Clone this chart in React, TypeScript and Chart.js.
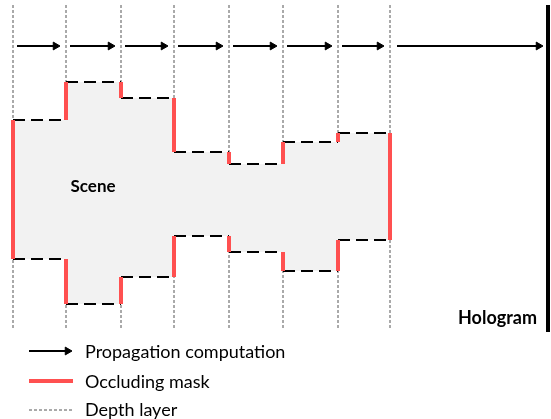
import React, { useEffect, useRef } from "react";
import { Chart, registerables } from "chart.js";

Chart.register(...registerables);

// Depth positions of the layers (x) and the scene profile (y, measured downward)
const layerDepths = [13, 66, 121, 174, 229, 283, 338, 390];
const upperEdge = [120, 82, 98, 152, 164, 142, 133];
const lowerEdge = [259, 304, 277, 236, 252, 271, 240];
const hologramDepth = 548;
const layerRange = [5, 330];
const hologramRange = [5, 332];
const arrowLevel = 46;
const lastArrow = [397, 543];
const legendLabels = ["Propagation computation", "Occluding mask", "Depth layer"];
const legendRows = [351, 381, 410];
const legendSample = [29, 73];
const legendTextX = 85;
const sceneLabel = "Scene";
const hologramLabel = "Hologram";

const RED = "#ff5050";
const FILL = "#f2f2f2";
const FONT = "Lato, 'Open Sans', sans-serif";

function seg(x1: number, y1: number, x2: number, y2: number, opts: any) {
  return {
    data: [
      { x: x1, y: y1 },
      { x: x2, y: y2 },
    ],
    pointRadius: 0,
    fill: false,
    tension: 0,
    ...opts,
  };
}

function arrow(x1: number, x2: number, y: number) {
  const r = 4.5;
  return {
    data: [
      { x: x1, y },
      { x: x2 - r, y },
    ],
    borderColor: "#000",
    borderWidth: 2,
    pointRadius: [0, r],
    pointStyle: "triangle",
    pointRotation: 90,
    pointBackgroundColor: "#000",
    pointBorderColor: "#000",
    pointBorderWidth: 1,
    fill: false,
    order: 0,
  };
}

export default function App() {
  const ref = useRef<HTMLCanvasElement>(null);

  useEffect(() => {
    const n = layerDepths.length;
    const datasets: any[] = [];

    // depth layers (drawn first, under the scene fill)
    layerDepths.forEach((d) => {
      datasets.push(
        seg(d, layerRange[0], d, layerRange[1], {
          borderColor: "#555",
          borderWidth: 1,
          borderDash: [3, 2],
          order: 10,
        })
      );
    });

    // scene fill between stepped upper and lower edges
    const up = layerDepths.map((d, i) => ({ x: d, y: upperEdge[Math.min(i, n - 2)] }));
    const lo = layerDepths.map((d, i) => ({ x: d, y: lowerEdge[Math.min(i, n - 2)] }));
    datasets.push({
      data: up,
      stepped: "before",
      borderWidth: 0,
      borderColor: "rgba(0,0,0,0)",
      backgroundColor: FILL,
      pointRadius: 0,
      fill: "+1",
      order: 9,
    });
    datasets.push({
      data: lo,
      stepped: "before",
      borderWidth: 0,
      borderColor: "rgba(0,0,0,0)",
      pointRadius: 0,
      fill: false,
      order: 9,
    });

    // dashed black horizontal edges
    for (let i = 0; i < n - 1; i++) {
      [upperEdge[i], lowerEdge[i]].forEach((y) => {
        datasets.push(
          seg(layerDepths[i], y, layerDepths[i + 1], y, {
            borderColor: "#000",
            borderWidth: 2.2,
            borderDash: [12, 6],
            order: 5,
          })
        );
      });
    }

    // red occluding masks
    const red = (x: number, a: number, b: number) =>
      seg(x, a, x, b, { borderColor: RED, borderWidth: 4, order: 3 });
    datasets.push(red(layerDepths[0], upperEdge[0], lowerEdge[0]));
    for (let i = 1; i < n - 1; i++) {
      datasets.push(red(layerDepths[i], upperEdge[i - 1], upperEdge[i]));
      datasets.push(red(layerDepths[i], lowerEdge[i - 1], lowerEdge[i]));
    }
    datasets.push(red(layerDepths[n - 1], upperEdge[n - 2], lowerEdge[n - 2]));

    // propagation arrows
    for (let i = 0; i < n - 1; i++) {
      datasets.push(arrow(layerDepths[i] + 4, layerDepths[i + 1] - 6, arrowLevel));
    }
    datasets.push(arrow(lastArrow[0], lastArrow[1], arrowLevel));

    // hologram plane
    datasets.push(
      seg(hologramDepth, hologramRange[0], hologramDepth, hologramRange[1], {
        borderColor: "#000",
        borderWidth: 4,
        order: 1,
      })
    );

    // legend samples
    datasets.push(arrow(legendSample[0], legendSample[1] - 1, legendRows[0]));
    datasets.push(
      seg(legendSample[0], legendRows[1], legendSample[1], legendRows[1], {
        borderColor: RED,
        borderWidth: 4,
        order: 1,
      })
    );
    datasets.push(
      seg(legendSample[0], legendRows[2], legendSample[1], legendRows[2], {
        borderColor: "#555",
        borderWidth: 1,
        borderDash: [3, 2],
        order: 1,
      })
    );

    const textPlugin = {
      id: "labels",
      afterDraw(chart: any) {
        const { ctx, scales } = chart;
        const X = (v: number) => scales.x.getPixelForValue(v);
        const Y = (v: number) => scales.y.getPixelForValue(v);
        ctx.save();
        ctx.fillStyle = "#000";
        ctx.textBaseline = "alphabetic";
        ctx.font = `bold 17px ${FONT}`;
        ctx.textAlign = "center";
        ctx.fillText(sceneLabel, X(93), Y(192));
        ctx.textAlign = "right";
        ctx.font = `bold 18px ${FONT}`;
        ctx.fillText(hologramLabel, X(537), Y(324));
        ctx.textAlign = "left";
        ctx.font = `18px ${FONT}`;
        const baselines = [358, 388, 416];
        legendLabels.forEach((t, i) => ctx.fillText(t, X(legendTextX), Y(baselines[i])));
        ctx.restore();
      },
    };

    const chart = new Chart(ref.current!, {
      type: "line",
      data: { datasets },
      options: {
        animation: false,
        responsive: false,
        devicePixelRatio: 1,
        layout: { padding: 0, autoPadding: false },
        plugins: { legend: { display: false }, tooltip: { enabled: false } },
        elements: { line: { tension: 0 } },
        scales: {
          x: { type: "linear", min: 0, max: 551, display: false },
          y: { type: "linear", min: 0, max: 419, reverse: true, display: false },
        },
      },
      plugins: [textPlugin],
    });
    return () => chart.destroy();
  }, []);

  return (
    <div style={{ position: "absolute", left: 0, top: 0, width: 551, height: 419, background: "#fff" }}>
      <canvas ref={ref} width={551} height={419} />
    </div>
  );
}
